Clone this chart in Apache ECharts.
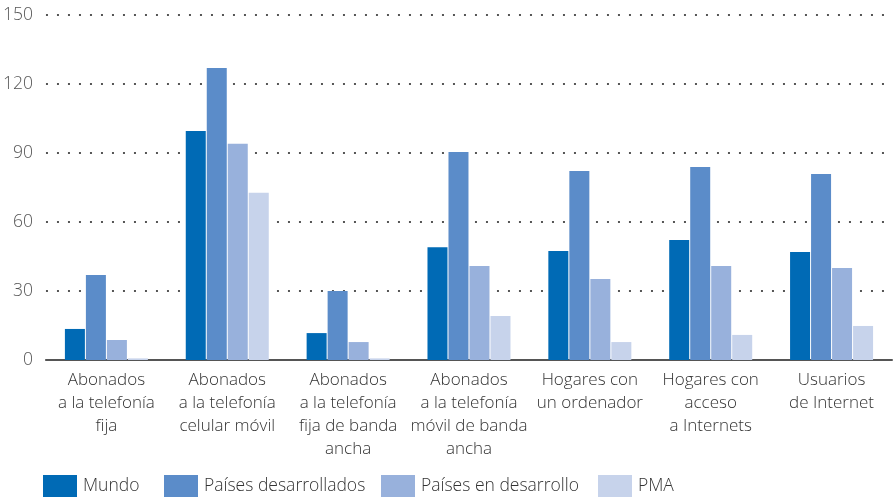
<!DOCTYPE html>
<html><head><meta charset="utf-8">
<script src="https://cdn.jsdelivr.net/npm/echarts@6/dist/echarts.min.js"></script>
<style>html,body{margin:0;padding:0;background:#fff}#c{width:894px;height:502px}</style>
</head><body><div id="c"></div>
<script>
const categories = [
  "Abonados\na la telefonía\nfija",
  "Abonados\na la telefonía\ncelular móvil",
  "Abonados\na la telefonía\nfija de banda\nancha",
  "Abonados\na la telefonía\nmóvil de banda\nancha",
  "Hogares con\nun ordenador",
  "Hogares con\nacceso\na Internets",
  "Usuarios\nde Internet"
];
const seriesNames = ["Mundo", "Países desarrollados", "Países en desarrollo", "PMA"];
const mundo = [13.5, 99.6, 11.7, 49, 47.4, 52.2, 47];
const desarrollados = [37, 127, 30, 90.4, 82.2, 83.9, 80.9];
const enDesarrollo = [8.7, 94, 7.8, 40.9, 35.2, 40.9, 40];
const pma = [0.7, 72.7, 0.7, 19.1, 7.8, 10.9, 14.8];
const yTicks = [0, 30, 60, 90, 120, 150];

const colors = ["#006ab5", "#5b8cc9", "#98b1dc", "#c7d3eb"];
const values = [mundo, desarrollados, enDesarrollo, pma];
const font = "'Open Sans', sans-serif";
const legendLefts = [43, 164, 381, 598];

const chart = echarts.init(document.getElementById('c'));
chart.setOption({
  animation: false,
  color: colors,
  grid: { left: 45, right: 2, top: 15, bottom: 142, containLabel: false },
  legend: seriesNames.map((n, i) => ({
    left: legendLefts[i], top: 475, itemWidth: 34, itemHeight: 22,
    icon: 'rect', padding: 0,
    textStyle: { fontFamily: font, fontWeight: 300, fontSize: 17.5, color: '#333', padding: [0, 0, 0, 1] },
    data: [n]
  })),
  xAxis: {
    type: 'category', data: categories,
    axisLine: { lineStyle: { color: '#555', width: 2 } },
    axisTick: { show: false },
    axisLabel: { fontFamily: font, fontWeight: 300, fontSize: 17, color: '#333', lineHeight: 23, margin: 9, interval: 0 }
  },
  yAxis: {
    type: 'value', min: 0, max: 150, interval: 30,
    axisLine: { show: false }, axisTick: { show: false },
    axisLabel: { fontFamily: font, fontWeight: 300, fontSize: 17.5, color: '#555', margin: 13,
      formatter: v => yTicks.includes(v) ? String(v) : '' },
    splitLine: { lineStyle: { color: '#555', width: 2, type: [2, 9] } }
  },
  series: seriesNames.map((n, i) => ({
    name: n, type: 'bar', data: values[i], barWidth: 20, barGap: '5%',
    itemStyle: { color: colors[i] }
  }))
});
</script></body></html>
